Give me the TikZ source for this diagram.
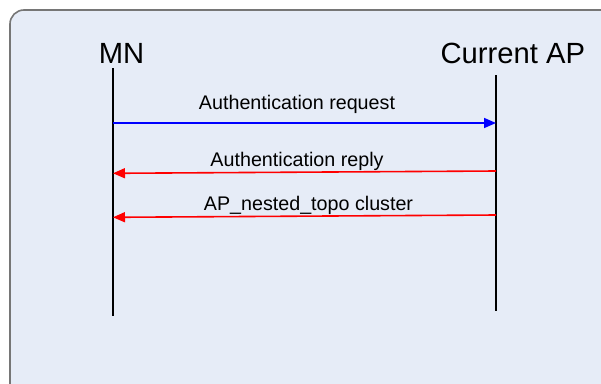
\documentclass[tikz,border=0pt]{standalone}
\usepackage{fontspec}
\setmainfont{Liberation Sans}
\usetikzlibrary{arrows.meta}
\definecolor{panelfill}{HTML}{E6ECF7}
\definecolor{panelborder}{HTML}{767676}
\tikzset{
  big/.style={font=\fontsize{29.2}{31}\selectfont, anchor=base, inner sep=0pt},
  msglabel/.style={font=\fontsize{19.7}{21}\selectfont, anchor=base, inner sep=0pt},
  lifeline/.style={line width=1.6pt, black},
  reqarrow/.style={line width=1.6pt, blue, -{Triangle[length=12pt,width=10pt]}},
  reparrow/.style={line width=1.6pt, red, -{Triangle[length=12pt,width=10pt]}},
}
\begin{document}
\begin{tikzpicture}[x=1pt,y=-1pt]
\useasboundingbox (0,0) rectangle (601,383);
\clip (0,0) rectangle (601,383);
\fill[white] (0,0) rectangle (601,383);
\draw[fill=panelfill, draw=panelborder, line width=1.6pt, rounded corners=14pt] (10,10) rectangle (660,398);
\node[big] (mn) at (121.5,63) {MN};
\node[big] (ap) at (512.8,63) {Current AP};
\coordinate (mnTop) at (113,68);
\coordinate (mnBot) at (113,316);
\coordinate (apTop) at (496,75);
\coordinate (apBot) at (496,311);
\draw[lifeline] (mnTop) -- (mnBot);
\draw[lifeline] (apTop) -- (apBot);
\coordinate (r1s) at (113,123);
\coordinate (r1e) at (496,123);
\coordinate (r2s) at (496,171);
\coordinate (r2e) at (113,173.3);
\coordinate (r3s) at (496,215);
\coordinate (r3e) at (113,217.3);
\draw[reqarrow] (r1s) -- (r1e);
\draw[reparrow] (r2s) -- (r2e);
\draw[reparrow] (r3s) -- (r3e);
\node[msglabel] (l1) at (297,109) {Authentication request};
\node[msglabel] (l2) at (297,166) {Authentication reply};
\node[msglabel] (l3) at (308.5,210) {AP\_nested\_topo cluster};
\end{tikzpicture}
\end{document}
